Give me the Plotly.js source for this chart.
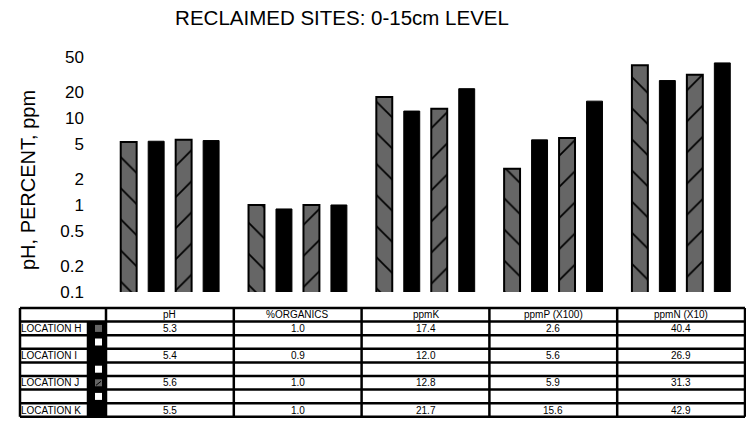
<!DOCTYPE html>
<html>
<head>
<meta charset="utf-8">
<script src="https://cdn.plot.ly/plotly-3.0.1.min.js"></script>
<style>
  html, body { margin: 0; padding: 0; background: #ffffff; }
  #chart { width: 746px; height: 425px; }
</style>
</head>
<body>
<div id="chart"></div>
<script>
// Soil measurements at reclaimed sites, 0-15cm depth
const categories = ['pH', '%ORGANICS', 'ppmK', 'ppmP (X100)', 'ppmN (X10)'];
const locations = ['LOCATION H', 'LOCATION I', 'LOCATION J', 'LOCATION K'];
const locH = [5.3, 1.0, 17.4, 2.6, 40.4];
const locI = [5.4, 0.9, 12.0, 5.6, 26.9];
const locJ = [5.6, 1.0, 12.8, 5.9, 31.3];
const locK = [5.5, 1.0, 21.7, 15.6, 42.9];
const tickVals = [0.1, 0.2, 0.5, 1, 2, 5, 10, 20, 50];
const tickText = ['0.1', '0.2', '0.5', '1', '2', '5', '10', '20', '50'];
const yTitle = 'pH, PERCENT, ppm';

const series = [locH, locI, locJ, locK];
const FONT = 'Liberation Sans, Arial, sans-serif';

// Bar appearance per location
const barStyles = [
  { color: '#666666', pattern: { shape: '\\', fgcolor: '#000000', bgcolor: '#666666', size: 22, solidity: 0.08 }, line: { color: '#000000', width: 2 } },
  { color: '#000000', line: { color: '#000000', width: 1 } },
  { color: '#666666', pattern: { shape: '/', fgcolor: '#000000', bgcolor: '#666666', size: 22, solidity: 0.08 }, line: { color: '#000000', width: 2 } },
  { color: '#000000', line: { color: '#000000', width: 1 } }
];
// Legend key colour shown in the table for each location
const keyColors = ['#666666', '#000000', '#666666', '#000000'];

const traces = series.map((vals, i) => ({
  type: 'bar',
  name: locations[i],
  x: categories,
  y: vals,
  marker: barStyles[i],
  hoverinfo: 'x+y+name'
}));

// Plot-area geometry (pixels in the 746x425 canvas)
const W = 746, Hh = 425;
const L = 106, R = 745, T = 49, B = 292;
const PW = R - L, PH = B - T;
const px = p => (p - L) / PW;
const py = p => (B - p) / PH;

// Data table geometry
const tblLeft = 20, keyLeft = 88, dataLeft = L, tblRight = R;
const tblTop = 308, rowH = 13.6, nRows = 8;
const rowTop = r => tblTop + r * rowH;
const colEdge = c => dataLeft + c * (tblRight - dataLeft) / categories.length;

const shapes = [];
const annotations = [];
const LW = 2.5;

// black key column
shapes.push({ type: 'rect', xref: 'paper', yref: 'paper',
  x0: px(keyLeft), x1: px(dataLeft), y0: py(rowTop(1)), y1: py(rowTop(nRows)),
  fillcolor: '#000000', line: { width: 0 } });

// horizontal rules
for (let r = 0; r <= nRows; r++) {
  shapes.push({ type: 'line', xref: 'paper', yref: 'paper',
    x0: px(tblLeft), x1: px(tblRight), y0: py(rowTop(r)), y1: py(rowTop(r)),
    line: { color: '#000000', width: LW } });
}
// vertical rules
[tblLeft, ...categories.map((c, i) => colEdge(i)), tblRight].forEach(xp => {
  shapes.push({ type: 'line', xref: 'paper', yref: 'paper',
    x0: px(xp), x1: px(xp), y0: py(rowTop(0)), y1: py(rowTop(nRows)),
    line: { color: '#000000', width: LW } });
});
shapes.push({ type: 'line', xref: 'paper', yref: 'paper',
  x0: px(keyLeft), x1: px(keyLeft), y0: py(rowTop(1)), y1: py(rowTop(nRows)),
  line: { color: '#000000', width: LW } });

// legend keys: location rows and the blank spacer rows
const keyCx = 98.5, keyHalf = 3.5;
for (let r = 1; r < nRows; r++) {
  const isLoc = (r % 2 === 1);
  const li = (r - 1) / 2;
  const cy = rowTop(r) + rowH / 2;
  shapes.push({ type: 'rect', xref: 'paper', yref: 'paper',
    x0: px(keyCx - keyHalf), x1: px(keyCx + keyHalf),
    y0: py(cy + keyHalf), y1: py(cy - keyHalf),
    fillcolor: isLoc ? keyColors[li] : '#ffffff', line: { width: 0 } });
  if (isLoc && li === 2) {
    shapes.push({ type: 'line', xref: 'paper', yref: 'paper',
      x0: px(keyCx - keyHalf + 1), x1: px(keyCx + keyHalf - 1),
      y0: py(cy + keyHalf - 1), y1: py(cy - keyHalf + 2),
      line: { color: '#000000', width: 1 } });
  }
}

const cellFont = { family: FONT, size: 10, color: '#000000' };
// column headers
categories.forEach((c, i) => {
  annotations.push({ xref: 'paper', yref: 'paper',
    x: px((colEdge(i) + colEdge(i + 1)) / 2), y: py(rowTop(0) + rowH / 2),
    text: c, showarrow: false, xanchor: 'center', yanchor: 'middle', font: cellFont });
});
// location rows
locations.forEach((name, li) => {
  const r = 1 + li * 2;
  const cy = rowTop(r) + rowH / 2;
  annotations.push({ xref: 'paper', yref: 'paper', x: px(tblLeft), y: py(cy),
    text: name, showarrow: false, xanchor: 'left', yanchor: 'middle', font: cellFont, borderpad: 0 });
  series[li].forEach((v, i) => {
    annotations.push({ xref: 'paper', yref: 'paper',
      x: px((colEdge(i) + colEdge(i + 1)) / 2), y: py(cy),
      text: v.toFixed(1), showarrow: false, xanchor: 'center', yanchor: 'middle', font: cellFont });
  });
});

// vertical axis caption
annotations.push({ xref: 'paper', yref: 'paper', x: px(28), y: py(180),
  text: yTitle, textangle: -90, showarrow: false, xanchor: 'center', yanchor: 'middle',
  font: { family: FONT, size: 20, color: '#000000' } });

const layout = {
  width: W, height: Hh,
  paper_bgcolor: '#ffffff', plot_bgcolor: '#ffffff',
  margin: { l: L, r: W - R, t: T, b: Hh - B, pad: 0 },
  font: { family: FONT, color: '#000000' },
  title: { text: 'RECLAIMED SITES: 0-15cm LEVEL', font: { family: FONT, size: 20.5, color: '#000000' },
    x: 342 / W, xanchor: 'center', xref: 'container', y: 1 - 18 / Hh, yanchor: 'middle', yref: 'container' },
  showlegend: false,
  barmode: 'group',
  bargap: 0.14,
  bargroupgap: 0.42,
  xaxis: { type: 'category', showticklabels: false, ticks: '', showline: false, showgrid: false, zeroline: false,
    range: [-0.5, categories.length - 0.5], fixedrange: true },
  yaxis: { type: 'log', range: [-1, Math.log10(62)], tickvals: tickVals, ticktext: tickText,
    tickfont: { family: FONT, size: 17, color: '#000000' }, ticks: '', ticklabelstandoff: 21,
    showline: false, showgrid: false, zeroline: false, automargin: false },
  shapes: shapes,
  annotations: annotations
};

Plotly.newPlot('chart', traces, layout, { displayModeBar: false, responsive: false });
</script>
</body>
</html>
